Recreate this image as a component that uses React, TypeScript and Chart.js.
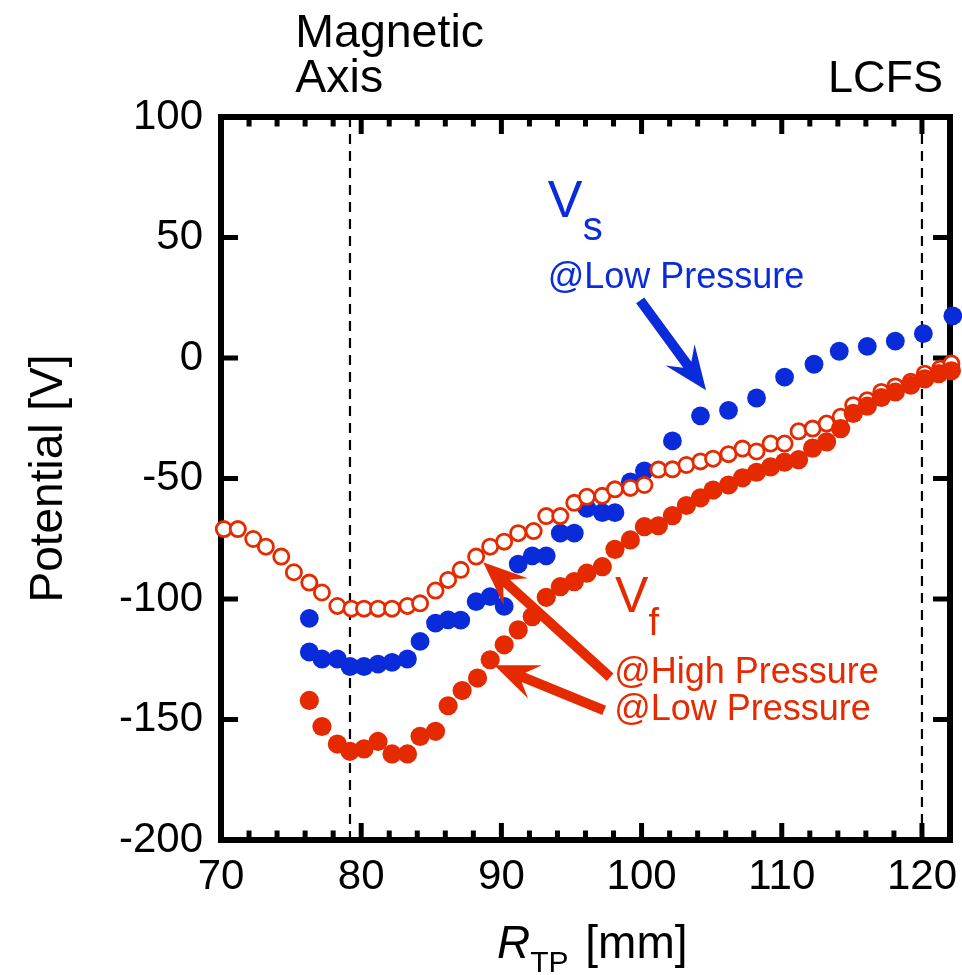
import React, { useEffect, useRef } from 'react';
import { Chart, registerables } from 'chart.js';

Chart.register(...registerables);

const FONT = '"Liberation Sans", Arial, Helvetica, sans-serif';
const BLUE = '#0a2bd9';
const RED = '#e52a00';

// V_f @ High Pressure (open circles)
const vfHighR = [70.2, 71.2, 72.3, 73.2, 74.3, 75.2, 76.3, 77.2, 78.3, 79.3, 80.2, 81.2, 82.2, 83.3, 84.2, 85.3, 86.2, 87.1, 88.2, 89.2, 90.2, 91.2, 92.3, 93.2, 94.2, 95.2, 96.1, 97.2, 98.1, 99.2, 100.2, 101.2, 102.2, 103.2, 104.2, 105.1, 106.2, 107.2, 108.2, 109.2, 110.2, 111.2, 112.2, 113.2, 114.2, 115.1, 116.1, 117.1, 118.1, 119.2, 120.2, 121.3, 122.1];
const vfHighV = [-71.0, -71.0, -75.1, -78.3, -82.4, -88.9, -93.2, -97.3, -102.9, -104.0, -104.0, -104.0, -104.0, -102.9, -101.8, -96.5, -92.1, -87.9, -82.4, -78.3, -76.2, -72.7, -71.8, -65.6, -65.6, -60.1, -57.6, -57.2, -54.5, -53.9, -52.7, -46.3, -46.2, -44.4, -42.9, -41.8, -39.9, -37.6, -38.8, -35.5, -35.5, -30.4, -29.3, -27.2, -24.4, -19.6, -17.5, -14.1, -11.8, -9.9, -6.5, -4.4, -2.3];

// V_f @ Low Pressure (filled red)
const vfLowR = [76.3, 77.2, 78.3, 79.2, 80.2, 81.2, 82.2, 83.3, 84.2, 85.3, 86.2, 87.2, 88.3, 89.2, 90.2, 91.2, 92.2, 93.2, 94.2, 95.2, 96.1, 97.2, 98.1, 99.2, 100.2, 101.2, 102.2, 103.2, 104.2, 105.1, 106.2, 107.2, 108.2, 109.2, 110.2, 111.2, 112.2, 113.2, 114.2, 115.1, 116.1, 117.1, 118.1, 119.2, 120.2, 121.2, 122.1];
const vfLowV = [-142.1, -152.9, -160.2, -163.2, -162.2, -159.1, -164.3, -164.3, -157.0, -154.9, -144.3, -138.0, -132.8, -125.2, -119.0, -112.8, -107.3, -99.3, -94.9, -92.8, -89.3, -86.6, -79.4, -75.5, -70.0, -69.6, -65.4, -61.2, -58.0, -54.8, -52.7, -49.7, -47.4, -45.2, -43.2, -42.2, -37.4, -34.8, -29.3, -23.0, -20.0, -16.4, -14.1, -11.3, -8.7, -6.5, -5.3];

// V_s @ Low Pressure (filled blue)
const vsLowR = [76.3, 76.3, 77.2, 78.3, 79.2, 80.2, 81.2, 82.2, 83.3, 84.2, 85.3, 86.2, 87.1, 88.2, 89.2, 90.2, 91.2, 92.2, 93.2, 94.2, 95.2, 96.1, 97.2, 98.1, 99.2, 100.2, 102.2, 104.2, 106.2, 108.2, 110.2, 112.3, 114.1, 116.1, 118.1, 120.1, 122.2];
const vsLowV = [-108.0, -122.0, -124.9, -124.9, -128.0, -128.0, -127.0, -126.3, -124.9, -117.6, -110.0, -108.7, -108.8, -101.1, -99.0, -103.1, -85.5, -82.1, -82.1, -72.7, -72.7, -62.4, -64.2, -64.2, -51.4, -46.8, -34.4, -24.0, -21.7, -16.6, -7.9, -2.6, 2.8, 4.8, 7.0, 10.1, 17.5];

const xMin = 70;
const xMax = 122;
const yMin = -200;
const yMax = 100;
const xMajorStep = 10;
const xMinorStep = 2;
const yMajorStep = 50;

const magneticAxisR = 79.2;
const lcfsR = 120;

const toPoints = (xs: number[], ys: number[]) => xs.map((x, i) => ({ x, y: ys[i] }));

function drawArrow(ctx: CanvasRenderingContext2D, x1: number, y1: number, x2: number, y2: number, color: string) {
  const ang = Math.atan2(y2 - y1, x2 - x1);
  const len = Math.hypot(x2 - x1, y2 - y1);
  const shaft = 10;
  const headLen = 44;
  const headW = 18;
  ctx.save();
  ctx.translate(x2, y2);
  ctx.rotate(ang);
  ctx.fillStyle = color;
  ctx.beginPath();
  ctx.moveTo(0, 0);
  ctx.lineTo(-headLen, -headW);
  ctx.lineTo(-headLen * 0.72, -shaft / 2);
  ctx.lineTo(-len, -shaft / 2);
  ctx.lineTo(-len, shaft / 2);
  ctx.lineTo(-headLen * 0.72, shaft / 2);
  ctx.lineTo(-headLen, headW);
  ctx.closePath();
  ctx.fill();
  ctx.restore();
}

const framePlugin = {
  id: 'frame',
  beforeDatasetsDraw(chart: any) {
    const { ctx, chartArea: a, scales } = chart;
    const xs = scales.x;
    const ys = scales.y;
    ctx.save();
    ctx.strokeStyle = '#000';
    ctx.lineWidth = 2.2;
    ctx.setLineDash([10, 7]);
    for (const r of [magneticAxisR, lcfsR]) {
      const px = xs.getPixelForValue(r);
      ctx.beginPath();
      ctx.moveTo(px, a.top);
      ctx.lineTo(px, a.bottom);
      ctx.stroke();
    }
    ctx.setLineDash([]);
    ctx.lineWidth = 5;
    ctx.lineCap = 'butt';
    for (let v = xMin; v <= xMax + 1e-6; v += xMinorStep) {
      const major = Math.abs((v - xMin) % xMajorStep) < 1e-6;
      const L = major ? 17 : 9.5;
      const px = xs.getPixelForValue(v);
      ctx.beginPath();
      ctx.moveTo(px, a.bottom);
      ctx.lineTo(px, a.bottom - L);
      ctx.moveTo(px, a.top);
      ctx.lineTo(px, a.top + L);
      ctx.stroke();
    }
    for (let v = yMin; v <= yMax + 1e-6; v += yMajorStep) {
      const py = ys.getPixelForValue(v);
      ctx.beginPath();
      ctx.moveTo(a.left, py);
      ctx.lineTo(a.left + 17, py);
      ctx.moveTo(a.right, py);
      ctx.lineTo(a.right - 17, py);
      ctx.stroke();
    }
    ctx.lineWidth = 6;
    ctx.lineJoin = 'miter';
    ctx.strokeRect(a.left, a.top, a.right - a.left, a.bottom - a.top);
    ctx.restore();
  },
  afterDatasetsDraw(chart: any) {
    const { ctx, chartArea: a, scales } = chart;
    const X = (v: number) => scales.x.getPixelForValue(v);
    const Y = (v: number) => scales.y.getPixelForValue(v);
    ctx.save();
    ctx.textBaseline = 'alphabetic';
    ctx.textAlign = 'left';
    const text = (s: string, r: number, v: number, size: number, color: string, style = '') => {
      ctx.font = `${style} ${size}px ${FONT}`;
      ctx.fillStyle = color;
      ctx.fillText(s, X(r), Y(v));
    };
    text('Magnetic', 75.3, 128.9, 46.5, '#000');
    text('Axis', 75.3, 110.2, 46.5, '#000');
    text('LCFS', 113.3, 110.2, 45, '#000');
    text('V', 93.3, 58.4, 52, BLUE);
    text('s', 95.8, 48.8, 40, BLUE);
    text('@Low Pressure', 93.3, 28.9, 36, BLUE);
    drawArrow(ctx, X(99.9), Y(23.9), X(104.6), Y(-13.4), BLUE);
    text('V', 98.1, -105.5, 50, RED);
    text('f', 100.5, -115.1, 38, RED);
    text('@High Pressure', 98.05, -135.0, 36, RED);
    text('@Low Pressure', 98.05, -150.3, 36, RED);
    drawArrow(ctx, X(97.76), Y(-132.5), X(88.7), Y(-84.7), RED);
    drawArrow(ctx, X(97.33), Y(-146.2), X(89.49), Y(-127.5), RED);

    ctx.fillStyle = '#000';
    ctx.font = `italic 46px ${FONT}`;
    let x0 = 497;
    const yb = 958;
    ctx.fillText('R', x0, yb);
    x0 += ctx.measureText('R').width;
    ctx.font = `30px ${FONT}`;
    ctx.fillText('TP', x0, yb + 14);
    x0 += ctx.measureText('TP').width;
    ctx.font = `46px ${FONT}`;
    ctx.fillText(' [mm]', x0 + 4, yb);

    ctx.translate(62, (a.top + a.bottom) / 2);
    ctx.rotate(-Math.PI / 2);
    ctx.textAlign = 'center';
    ctx.font = `46px ${FONT}`;
    ctx.fillText('Potential [V]', 0, 0);
    ctx.restore();
  },
};

export default function App() {
  const ref = useRef<HTMLCanvasElement | null>(null);
  useEffect(() => {
    if (!ref.current) return;
    const chart = new Chart(ref.current, {
      type: 'scatter',
      data: {
        datasets: [
          {
            label: 'Vf @Low Pressure',
            data: toPoints(vfLowR, vfLowV),
            pointBackgroundColor: RED,
            pointBorderColor: RED,
            pointBorderWidth: 0,
            pointRadius: 9.6,
            pointHoverRadius: 9.6,
            clip: false,
          },
          {
            label: 'Vf @High Pressure',
            data: toPoints(vfHighR, vfHighV),
            pointBackgroundColor: '#ffffff',
            pointBorderColor: RED,
            pointBorderWidth: 2.8,
            pointRadius: 7.6,
            pointHoverRadius: 7.6,
            clip: false,
          },
          {
            label: 'Vs @Low Pressure',
            data: toPoints(vsLowR, vsLowV),
            pointBackgroundColor: BLUE,
            pointBorderColor: BLUE,
            pointBorderWidth: 0,
            pointRadius: 9.4,
            pointHoverRadius: 9.4,
            clip: false,
          },
        ],
      } as any,
      options: {
        responsive: false,
        animation: false,
        events: [],
        layout: { padding: { left: 0, right: 12, top: 117, bottom: 0 } },
        plugins: { legend: { display: false }, tooltip: { enabled: false } },
        scales: {
          x: {
            type: 'linear',
            min: xMin,
            max: xMax,
            grid: { display: false, drawTicks: false },
            border: { display: false },
            ticks: {
              stepSize: xMajorStep,
              includeBounds: false,
              autoSkip: false,
              maxRotation: 0,
              color: '#000',
              padding: 12,
              font: { family: FONT, size: 42 },
            },
            afterFit: (s: any) => {
              s.height = 135;
              s.paddingLeft = 0;
              s.paddingRight = 0;
            },
          },
          y: {
            type: 'linear',
            min: yMin,
            max: yMax,
            grid: { display: false, drawTicks: false },
            border: { display: false },
            ticks: {
              stepSize: yMajorStep,
              color: '#000',
              padding: 18,
              font: { family: FONT, size: 42 },
            },
            afterFit: (s: any) => {
              s.width = 221;
              s.paddingTop = 0;
              s.paddingBottom = 0;
            },
          },
        },
      } as any,
      plugins: [framePlugin],
    });
    return () => chart.destroy();
  }, []);
  return (
    <div style={{ position: 'fixed', left: 0, top: 0, width: 962, height: 975, background: '#fff' }}>
      <canvas ref={ref} width={962} height={975} style={{ display: 'block' }} />
    </div>
  );
}
